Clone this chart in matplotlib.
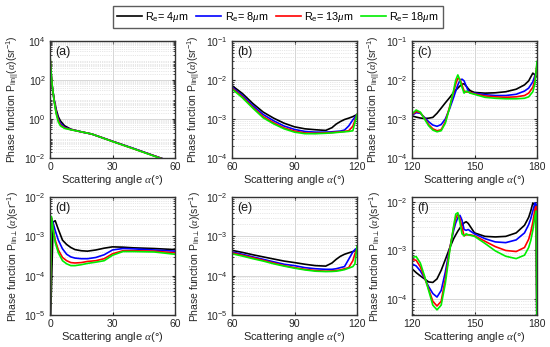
import matplotlib
matplotlib.use("Agg")
import matplotlib.pyplot as plt
from matplotlib.ticker import LogLocator, NullFormatter, FixedLocator

plt.rcParams['font.family'] = ['Liberation Sans', 'DejaVu Sans']
plt.rcParams['mathtext.fontset'] = 'custom'
plt.rcParams['mathtext.rm'] = 'Liberation Sans'
plt.rcParams['mathtext.it'] = 'Liberation Serif:italic'

labels = [r'R$_{\rm e}$= 4$\mu$m', r'R$_{\rm e}$= 8$\mu$m', r'R$_{\rm e}$= 13$\mu$m', r'R$_{\rm e}$= 18$\mu$m']
colors = ['black', '#0000ff', '#ff0000', '#00ee00']

# ---- panel (a) ----
a_x = [0, 0.5, 1, 2, 3, 4, 5, 7, 10, 15, 20, 30, 40, 50, 60]
a_black = [800, 200, 50, 10, 3.0, 1.3, 0.8, 0.45, 0.30, 0.22, 0.17, 0.072, 0.031, 0.013, 0.0055]
a_blue = [1200, 250, 55, 9, 2.3, 1.0, 0.6, 0.38, 0.29, 0.22, 0.17, 0.072, 0.031, 0.013, 0.0055]
a_red = [1600, 280, 58, 8.5, 2.0, 0.85, 0.5, 0.35, 0.285, 0.22, 0.17, 0.071, 0.030, 0.0128, 0.0054]
a_green = [2000, 300, 60, 8, 1.8, 0.7, 0.45, 0.33, 0.28, 0.22, 0.17, 0.070, 0.030, 0.0125, 0.0053]

# ---- panel (b) ----
b_x = [60, 65, 70, 75, 80, 85, 90, 95, 100, 105, 108, 110, 112, 114, 116, 118, 120]
b_black = [7.2e-3, 4.5e-3, 2.5e-3, 1.5e-3, 1.05e-3, 7.8e-4, 6.3e-4, 5.6e-4, 5.3e-4, 5.1e-4, 6.0e-4, 7.4e-4, 8.6e-4, 9.7e-4, 1.05e-3, 1.15e-3, 1.3e-3]
b_blue = [6.6e-3, 4.0e-3, 2.2e-3, 1.3e-3, 9.0e-4, 6.6e-4, 5.4e-4, 4.8e-4, 4.6e-4, 4.6e-4, 4.7e-4, 4.8e-4, 4.9e-4, 5.2e-4, 6.6e-4, 9.5e-4, 1.3e-3]
b_red = [6.2e-3, 3.7e-3, 2.0e-3, 1.15e-3, 8.0e-4, 5.9e-4, 4.9e-4, 4.4e-4, 4.3e-4, 4.4e-4, 4.5e-4, 4.6e-4, 4.7e-4, 4.8e-4, 5.0e-4, 6.5e-4, 1.3e-3]
b_green = [5.9e-3, 3.5e-3, 1.9e-3, 1.07e-3, 7.5e-4, 5.6e-4, 4.6e-4, 4.2e-4, 4.2e-4, 4.3e-4, 4.4e-4, 4.5e-4, 4.6e-4, 4.7e-4, 4.8e-4, 5.0e-4, 1.3e-3]

# ---- panel (c) ----
c_x = [120, 122, 124, 126, 128, 130, 132, 134, 136, 138, 140, 141, 142, 143, 144, 145, 146, 147, 148, 150, 155, 160, 165, 170, 174, 176, 178, 179, 180]
c_black = [1.2e-3, 1.12e-3, 1.06e-3, 1.03e-3, 1.05e-3, 1.1e-3, 1.4e-3, 1.9e-3, 2.6e-3, 3.5e-3, 4.8e-3, 5.5e-3, 6.2e-3, 7.0e-3, 7.8e-3, 8.0e-3, 7.0e-3, 6.0e-3, 5.3e-3, 4.8e-3, 4.6e-3, 4.7e-3, 5.0e-3, 5.8e-3, 7.5e-3, 9.5e-3, 1.5e-2, 1.35e-2, 1.2e-2]
c_blue = [1.25e-3, 1.45e-3, 1.4e-3, 1.1e-3, 8.5e-4, 7e-4, 6.5e-4, 7.2e-4, 1.0e-3, 1.8e-3, 3.6e-3, 5.2e-3, 7.5e-3, 9.8e-3, 1.05e-2, 9.5e-3, 7.0e-3, 5.3e-3, 4.6e-3, 4.6e-3, 4.2e-3, 4.0e-3, 4.0e-3, 4.3e-3, 5.2e-3, 6.2e-3, 9e-3, 1.3e-2, 1.8e-2]
c_red = [1.3e-3, 1.55e-3, 1.45e-3, 1.05e-3, 7.2e-4, 5.6e-4, 5.0e-4, 5.3e-4, 8.5e-4, 2.0e-3, 5.0e-3, 8.0e-3, 1.1e-2, 1.05e-2, 7.5e-3, 5.2e-3, 4.9e-3, 5.0e-3, 4.8e-3, 4.4e-3, 3.9e-3, 3.7e-3, 3.6e-3, 3.7e-3, 4.0e-3, 4.6e-3, 6.5e-3, 1.0e-2, 2.5e-2]
c_green = [1.35e-3, 1.7e-3, 1.5e-3, 1.0e-3, 6.7e-4, 5.2e-4, 4.7e-4, 5.0e-4, 7.8e-4, 1.9e-3, 5.5e-3, 1.0e-2, 1.35e-2, 1.0e-2, 6.5e-3, 4.6e-3, 5.2e-3, 4.9e-3, 4.6e-3, 4.3e-3, 3.6e-3, 3.4e-3, 3.3e-3, 3.3e-3, 3.4e-3, 3.7e-3, 5.0e-3, 8.0e-3, 3.0e-2]

# ---- panel (d) ----
d_x = [0, 0.7, 1.5, 2.5, 4, 6, 8, 10, 12, 15, 18, 22, 26, 30, 35, 40, 50, 60]
d_black = [3e-6, 5e-5, 2.3e-3, 2.5e-3, 1.5e-3, 8e-4, 6.2e-4, 5.2e-4, 4.6e-4, 4.3e-4, 4.2e-4, 4.5e-4, 5.0e-4, 5.4e-4, 5.3e-4, 5.1e-4, 4.9e-4, 4.6e-4]
d_blue = [3e-6, 2.8e-3, 2.2e-3, 1.4e-3, 8e-4, 4.8e-4, 3.5e-4, 3.0e-4, 2.8e-4, 2.7e-4, 2.7e-4, 2.9e-4, 3.4e-4, 4.5e-4, 4.9e-4, 4.8e-4, 4.5e-4, 4.2e-4]
d_red = [3e-6, 3e-3, 1.6e-3, 8e-4, 4.5e-4, 2.9e-4, 2.4e-4, 2.15e-4, 2.1e-4, 2.15e-4, 2.3e-4, 2.4e-4, 2.7e-4, 3.6e-4, 4.3e-4, 4.3e-4, 4.2e-4, 3.8e-4]
d_green = [3e-6, 3.2e-3, 1.5e-3, 7e-4, 3.8e-4, 2.4e-4, 2.0e-4, 1.8e-4, 1.8e-4, 1.9e-4, 2.05e-4, 2.2e-4, 2.4e-4, 3.3e-4, 4.1e-4, 4.1e-4, 4.0e-4, 3.5e-4]

# ---- panel (e) ----
e_x = [60, 65, 70, 75, 80, 85, 90, 95, 100, 105, 108, 110, 112, 114, 116, 118, 119, 120]
e_black = [4.4e-4, 3.9e-4, 3.4e-4, 3.0e-4, 2.65e-4, 2.35e-4, 2.15e-4, 1.95e-4, 1.8e-4, 1.75e-4, 2.1e-4, 2.6e-4, 3.1e-4, 3.5e-4, 3.8e-4, 4.1e-4, 4.3e-4, 4.6e-4]
e_blue = [4.0e-4, 3.5e-4, 3.0e-4, 2.6e-4, 2.25e-4, 1.95e-4, 1.8e-4, 1.6e-4, 1.5e-4, 1.45e-4, 1.45e-4, 1.5e-4, 1.6e-4, 1.7e-4, 2.6e-4, 4.0e-4, 4.6e-4, 5.0e-4]
e_red = [3.8e-4, 3.3e-4, 2.85e-4, 2.45e-4, 2.1e-4, 1.8e-4, 1.6e-4, 1.45e-4, 1.35e-4, 1.3e-4, 1.32e-4, 1.35e-4, 1.4e-4, 1.5e-4, 1.6e-4, 2.4e-4, 3.6e-4, 4.8e-4]
e_green = [3.6e-4, 3.15e-4, 2.7e-4, 2.35e-4, 2.0e-4, 1.75e-4, 1.55e-4, 1.4e-4, 1.3e-4, 1.27e-4, 1.28e-4, 1.3e-4, 1.35e-4, 1.42e-4, 1.55e-4, 1.7e-4, 2.0e-4, 5.5e-4]

# ---- panel (f) ----
f_x = [120, 122, 124, 126, 128, 130, 132, 134, 136, 138, 140, 141, 142, 143, 144, 145, 146, 147, 148, 150, 155, 160, 165, 170, 174, 176, 177, 178, 179, 179.6, 180]
f_black = [4.2e-4, 3.5e-4, 3.0e-4, 2.6e-4, 2.25e-4, 2.2e-4, 2.6e-4, 3.9e-4, 6.5e-4, 1.1e-3, 1.75e-3, 2.1e-3, 2.5e-3, 2.9e-3, 3.3e-3, 3.7e-3, 3.9e-3, 3.6e-3, 3.1e-3, 2.3e-3, 1.95e-3, 1.9e-3, 1.95e-3, 2.3e-3, 3.3e-3, 4.8e-3, 6.5e-3, 9.5e-3, 8.5e-3, 5e-3, 1e-5]
f_blue = [5.3e-4, 4.8e-4, 3.8e-4, 2.7e-4, 1.8e-4, 1.3e-4, 1.1e-4, 1.5e-4, 3.6e-4, 1.05e-3, 2.6e-3, 3.7e-3, 4.7e-3, 5.3e-3, 4.2e-3, 2.7e-3, 2.6e-3, 2.7e-3, 2.5e-3, 2.2e-3, 1.75e-3, 1.5e-3, 1.45e-3, 1.65e-3, 2.3e-3, 3.4e-3, 4.5e-3, 6.5e-3, 9.5e-3, 9e-3, 1e-5]
f_red = [6.5e-4, 6.3e-4, 4.6e-4, 2.8e-4, 1.6e-4, 9e-5, 7.2e-5, 9e-5, 2.6e-4, 1.0e-3, 3.0e-3, 4.6e-3, 5.6e-3, 4.5e-3, 3.0e-3, 2.0e-3, 2.1e-3, 2.1e-3, 2.1e-3, 2.0e-3, 1.55e-3, 1.2e-3, 1.0e-3, 9.5e-4, 1.15e-3, 1.7e-3, 2.4e-3, 3.8e-3, 7e-3, 8e-3, 1e-5]
f_green = [7.2e-4, 7.5e-4, 5.5e-4, 3.0e-4, 1.5e-4, 7.5e-5, 6e-5, 7.5e-5, 2.1e-4, 9e-4, 3.2e-3, 5.6e-3, 6.0e-3, 3.8e-3, 2.2e-3, 2.0e-3, 2.2e-3, 2.1e-3, 2.05e-3, 1.95e-3, 1.4e-3, 9.8e-4, 7.6e-4, 6.8e-4, 8e-4, 1.15e-3, 1.6e-3, 2.6e-3, 5e-3, 6.5e-3, 1e-5]

ylab_par = r'Phase function P$_{\rm lin||}$($\alpha$)(sr$^{-1}$)'
ylab_perp = r'Phase function P$_{\rm lin\perp}$($\alpha$)(sr$^{-1}$)'
panels = [
    ('(a)', a_x, [a_black, a_blue, a_red, a_green], (0, 60), [0, 30, 60], (1e-2, 1e4), [1e-2, 1e0, 1e2, 1e4], ylab_par),
    ('(b)', b_x, [b_black, b_blue, b_red, b_green], (60, 120), [60, 90, 120], (1e-4, 1e-1), [1e-4, 1e-3, 1e-2, 1e-1], ylab_par),
    ('(c)', c_x, [c_black, c_blue, c_red, c_green], (120, 180), [120, 150, 180], (1e-4, 1e-1), [1e-4, 1e-3, 1e-2, 1e-1], ylab_par),
    ('(d)', d_x, [d_black, d_blue, d_red, d_green], (0, 60), [0, 30, 60], (1e-5, 1e-2), [1e-5, 1e-4, 1e-3, 1e-2], ylab_perp),
    ('(e)', e_x, [e_black, e_blue, e_red, e_green], (60, 120), [60, 90, 120], (1e-5, 1e-2), [1e-5, 1e-4, 1e-3, 1e-2], ylab_perp),
    ('(f)', f_x, [f_black, f_blue, f_red, f_green], (120, 180), [120, 150, 180], (4.7e-5, 1.26e-2), [1e-4, 1e-3, 1e-2], ylab_perp),
]

fig = plt.figure(figsize=(5.5, 3.47), dpi=100)
W, H = 550, 347
lefts = [50, 232, 412]
rows = [(41, 158), (197, 315)]
width = 125

fs = 7.5
handles = None
for i, (tag, x, series, xl, xt, yl, yt, ylab) in enumerate(panels):
    r, c = divmod(i, 3)
    top, bot = rows[r]
    ax = fig.add_axes([lefts[c] / W, 1 - bot / H, width / W, (bot - top) / H])
    lines = []
    for s, col, lab in zip(series, colors, labels):
        ln, = ax.plot(x, s, color=col, lw=1.2, label=lab)
        lines.append(ln)
    handles = lines
    ax.set_yscale('log')
    ax.set_xlim(*xl)
    ax.set_ylim(*yl)
    ax.set_xticks(xt)
    ax.yaxis.set_major_locator(FixedLocator(yt))
    ax.yaxis.set_minor_locator(LogLocator(base=10, subs=range(2, 10), numticks=20))
    ax.yaxis.set_minor_formatter(NullFormatter())
    ax.grid(True, which='major', axis='both', color='0.82', lw=0.6)
    ax.grid(True, which='minor', axis='y', color='0.82', lw=0.5, ls=':')
    ax.set_axisbelow(True)
    ax.tick_params(which='both', direction='in', top=True, right=True, labelsize=fs, colors='0.15', length=2.5, pad=3)
    ax.tick_params(which='minor', length=1.5)
    for sp in ax.spines.values():
        sp.set_color('0.2')
        sp.set_linewidth(1.0)
    ax.set_xlabel(r'Scattering angle $\alpha$(°)', fontsize=fs + 0.5, color='0.15', labelpad=0.5)
    ax.set_ylabel(ylab, fontsize=fs, color='0.15', labelpad=2)
    ax.text(0.04, 0.96, tag, transform=ax.transAxes, fontsize=fs + 1.5, va='top', ha='left', color='0.1')

leg = fig.legend(handles, labels, loc='center', bbox_to_anchor=(278 / W, 1 - 17 / H), ncol=4,
                 fontsize=fs + 0.3, frameon=True, fancybox=False, handlelength=2.3, columnspacing=0.7,
                 handletextpad=0.3, borderpad=0.35)
leg.get_frame().set_edgecolor('0.2')
leg.get_frame().set_linewidth(1.0)

fig.savefig('out.png', dpi=100)
